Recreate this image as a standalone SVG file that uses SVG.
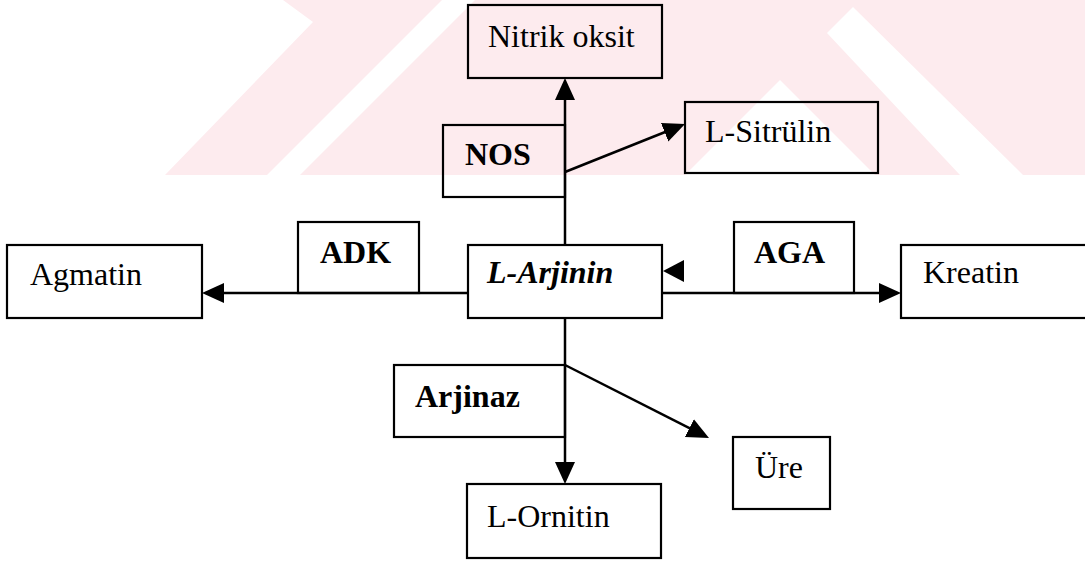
<svg xmlns="http://www.w3.org/2000/svg" width="1085" height="561" viewBox="0 0 1085 561">
  <defs>
    <style>
      .box { fill: none; stroke: #000; stroke-width: 2.2; }
      .t { font-family: "Liberation Serif", "Times New Roman", serif; font-size: 32px; fill: #000; }
      .b { font-weight: bold; }
      .bi { font-weight: bold; font-style: italic; }
      .ln { fill: none; stroke: #000; stroke-width: 2.5; }
      .wm { fill: #fdebee; }
      .wh { fill: #ffffff; }
    </style>
    <marker id="ah" markerUnits="userSpaceOnUse" markerWidth="24" markerHeight="22" refX="10" refY="10" orient="auto">
      <path d="M0,0 L22,10 L0,20 Z" fill="#000"/>
    </marker>
  </defs>
  <rect width="1085" height="561" fill="#ffffff"/>
  <g id="watermark">
    <polygon class="wm" points="283,0 442,0 267,175 165,175 313,22"/>
    <polygon class="wm" points="475,0 1085,0 1085,175 300,175"/>
    <polygon class="wh" points="780,80 875,175 685,175"/>
    <polygon class="wh" points="853,7 1023,175 960,175 827,33"/>
  </g>
  <g id="connectors">
    <path class="ln" d="M565,245 L565,90" marker-end="url(#ah)"/>
    <path class="ln" d="M565,172 L673.9,128.5" marker-end="url(#ah)"/>
    <path class="ln" d="M468,293 L214,293" marker-end="url(#ah)"/>
    <path class="ln" d="M662,293 L889,293" marker-end="url(#ah)"/>
    <path class="ln" d="M565,318 L565,472" marker-end="url(#ah)"/>
    <path class="ln" d="M565,365 L698.3,432.6" marker-end="url(#ah)"/>
    <polygon points="663,271 684,260 684,282" fill="#000"/>
  </g>
  <g id="nitrik-oksit">
    <rect class="box" x="468" y="5" width="194" height="73"/>
    <text class="t" x="488" y="47">Nitrik oksit</text>
  </g>
  <g id="l-sitrulin">
    <rect class="box" x="685" y="102" width="193" height="71"/>
    <text class="t" x="705" y="142">L-Sitrülin</text>
  </g>
  <g id="nos">
    <rect class="box" x="443" y="125" width="122" height="72"/>
    <text class="t b" x="465" y="165">NOS</text>
  </g>
  <g id="agmatin">
    <rect class="box" x="7" y="245" width="195" height="73"/>
    <text class="t" x="30" y="285">Agmatin</text>
  </g>
  <g id="adk">
    <rect class="box" x="298" y="222" width="121" height="71"/>
    <text class="t b" x="320" y="263">ADK</text>
  </g>
  <g id="l-arjinin">
    <rect class="box" x="468" y="245" width="194" height="73"/>
    <text class="t bi" x="487" y="283">L-Arjinin</text>
  </g>
  <g id="aga">
    <rect class="box" x="734" y="222" width="120" height="71"/>
    <text class="t b" x="754" y="263">AGA</text>
  </g>
  <g id="kreatin">
    <rect class="box" x="901" y="245" width="200" height="73"/>
    <text class="t" x="923" y="283">Kreatin</text>
  </g>
  <g id="arjinaz">
    <rect class="box" x="394" y="365" width="171" height="72"/>
    <text class="t b" x="415" y="407">Arjinaz</text>
  </g>
  <g id="ure">
    <rect class="box" x="733" y="437" width="97" height="72"/>
    <text class="t" x="755" y="478">Üre</text>
  </g>
  <g id="l-ornitin">
    <rect class="box" x="467" y="484" width="194" height="74"/>
    <text class="t" x="487" y="527">L-Ornitin</text>
  </g>
</svg>
